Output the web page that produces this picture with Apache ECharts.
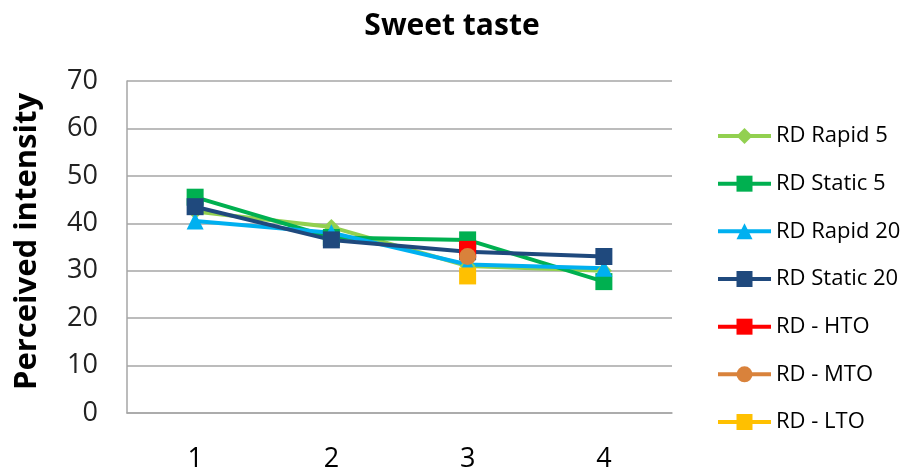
<!DOCTYPE html>
<html>
<head>
<meta charset="utf-8">
<script src="https://cdn.jsdelivr.net/npm/echarts@6/dist/echarts.min.js"></script>
<style>
  html, body { margin: 0; padding: 0; background: #fff; }
  #chart { width: 906px; height: 473px; }
</style>
</head>
<body>
<div id="chart"></div>
<script>
// Sweet taste: perceived intensity per session for each RD condition
const categories = ['1', '2', '3', '4'];
const rdRapid5   = [42.5, 39.2, 31, 30];
const rdStatic5  = [45.5, 37, 36.5, 27.7];
const rdRapid20  = [40.5, 38, 31.3, 30.5];
const rdStatic20 = [43.5, 36.5, 34, 33];
const rdHTO      = [null, null, 34.5, null];
const rdMTO      = [null, null, 33, null];
const rdLTO      = [null, null, 28.9, null];
const yTicks = { min: 0, max: 70, interval: 10 };

const FONT = '"Open Sans", Lato, sans-serif';

function lineSeries(name, data, color, symbol, size) {
  return {
    name: name,
    type: 'line',
    data: data,
    symbol: symbol,
    symbolSize: size,
    showAllSymbol: true,
    connectNulls: false,
    lineStyle: { color: color, width: 4 },
    itemStyle: { color: color },
    emphasis: { disabled: true }
  };
}

const chart = echarts.init(document.getElementById('chart'), null, { renderer: 'canvas' });
chart.setOption({
  animation: false,
  backgroundColor: '#ffffff',
  title: {
    text: 'Sweet taste',
    left: 447,
    top: 6,
    textAlign: 'center',
    textStyle: { fontFamily: FONT, fontSize: 30, fontWeight: 'bold', color: '#000' }
  },
  grid: { left: 127, right: 234, top: 81, bottom: 60 },
  legend: {
    orient: 'vertical',
    left: 711,
    top: 119,
    itemWidth: 53,
    itemHeight: 20,
    itemGap: 23.67,
    lineStyle: { width: 4 },
    textStyle: { fontFamily: FONT, fontSize: 22, lineHeight: 24, color: '#000' },
    data: ['RD Rapid 5', 'RD Static 5', 'RD Rapid 20', 'RD Static 20', 'RD - HTO', 'RD - MTO', 'RD - LTO']
  },
  xAxis: {
    type: 'category',
    data: categories,
    boundaryGap: true,
    axisTick: { show: false },
    axisLine: { lineStyle: { color: '#a6a6a6', width: 1.5 } },
    axisLabel: { margin: 33, fontFamily: FONT, fontSize: 27, color: '#000' },
    splitLine: { show: false }
  },
  yAxis: {
    type: 'value',
    min: yTicks.min,
    max: yTicks.max,
    interval: yTicks.interval,
    name: 'Perceived intensity',
    nameLocation: 'middle',
    nameRotate: 90,
    nameGap: 84,
    nameTextStyle: { fontFamily: FONT, fontSize: 31, fontWeight: 'bold', color: '#000', padding: [0, 0, 0, 11] },
    axisLine: { show: true, lineStyle: { color: '#a6a6a6', width: 1.5 } },
    axisTick: { show: false },
    axisLabel: { margin: 29, fontFamily: FONT, fontSize: 27, color: '#222' },
    splitLine: { lineStyle: { color: '#a6a6a6', width: 1.5 } }
  },
  series: [
    lineSeries('RD Rapid 5', rdRapid5, '#92d050', 'diamond', 16),
    lineSeries('RD Static 5', rdStatic5, '#00b050', 'rect', 17),
    lineSeries('RD Rapid 20', rdRapid20, '#00b0f0', 'triangle', 17),
    lineSeries('RD Static 20', rdStatic20, '#1f497d', 'rect', 17),
    lineSeries('RD - HTO', rdHTO, '#ff0000', 'rect', 17),
    lineSeries('RD - MTO', rdMTO, '#d9823b', 'circle', 17),
    lineSeries('RD - LTO', rdLTO, '#ffc000', 'rect', 17)
  ]
});
</script>
</body>
</html>
